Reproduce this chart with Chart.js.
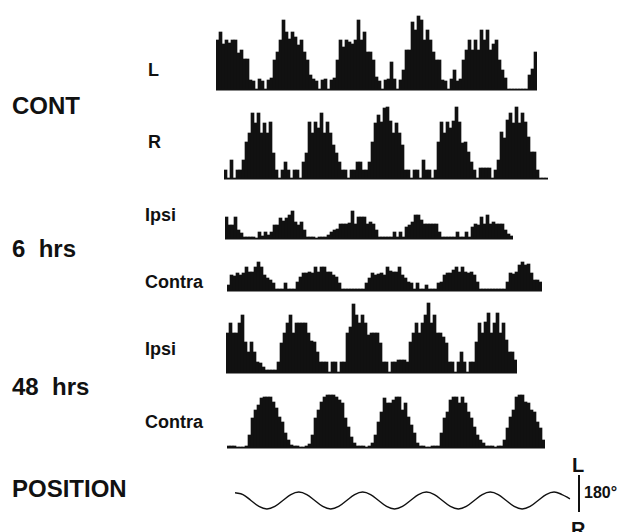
<!DOCTYPE html>
<html><head><meta charset="utf-8">
<script src="https://cdn.jsdelivr.net/npm/chart.js@4"></script>
<style>
html,body{margin:0;padding:0;background:#fff;width:620px;height:532px;overflow:hidden;}
#fig{position:relative;width:620px;height:532px;font-family:"Liberation Sans",Arial,sans-serif;font-weight:bold;color:#111;}
.lab{position:absolute;line-height:1;white-space:pre;}
#fig canvas{position:absolute;}
</style></head><body><div id="fig"></div>
<script>
// ---- data (spike counts per bin) ----
const contL = [49,57,45,49,46,49,49,36,39,30,30, 9,8,0,10,8,0,9,11,
  29,37,49,69,57,50,57,52,44,49,37,29,14, 10,8,0,9,10,0,9,11,
  29,49,42,49,47,45,49,69,49,57,37,37,29,12, 8,0,9,10,27,10,0,9,
  19,39,39,67,59,73,69,49,59,49,37,29,29,9, 8,0,10,19,8,10,
  29,39,49,39,49,39,59,49,59,39,45,49,29,19,11, 0,0,0,0,0,0,0, 14,20,37];
const contR = [8,0,18,0,8,8,18, 36,45,65,55,65,45,55,45,56,25, 8,0,8,16,8,0,8,8,0,
  16,25,56,45,56,50,65,45,56,45,33,25,16, 8,8,0,8,8,16,16,8,8,
  16,36,55,63,56,70,71,57,45,55,45,33, 8,8,0,8,8,0,18,8,8,0,8,
  36,56,45,56,50,57,71,56,35,36,26,16, 8,0,10,10,10,10,0,8,
  18,46,40,58,65,55,71,55,65,56,41,26,26,8, 0,0,0];
const ipsi6 = [21,13,13,21,8,5, 1,1,1,1,0,6,2,6,3,6, 13,13,20,17,20,23,27,16,13,16,8,
  1,1,1,0,1,1,1, 3,6,8,9,14,14,14,15,27,14,21,21,21,14,16,14,8,1, 1,1,1,1,6,1,6,1,
  11,13,16,23,23,18,14,14,14,14,14,6, 1,1,1,1,1,6,1,1,6,1,
  11,14,13,21,14,23,14,16,14,14,14,8,4,2];
const contra6 = [5,15,14,17,15,17,23,18,18,23,28,23,15,12,10,7, 1,1,1,7,1,1,1,8,
  13,17,17,18,17,23,18,23,23,18,18,15,13,7, 1,1,1,1,1,1,1,1,
  7,12,17,15,16,17,15,23,19,18,18,23,15,12,8,7, 1,7,1,1,5,1,1,1,7,
  8,15,17,17,20,23,18,23,18,17,18,15,8, 1,1,1,1,1,1,1,1,1,
  8,17,16,18,25,28,25,26,17,10,10,8];
const ipsi48 = [39,49,39,39,49,57,30,20,30,20,10,9,5, 2,2,2,2,
  10,29,39,49,57,39,49,49,49,49,39,31,30,20,10, 10,10,0,10,10,0,10,10,
  39,45,68,57,49,57,49,37,39,39,39,29,10, 10,0,10,10,12,12,12,10,
  30,39,49,39,49,57,69,49,57,39,39,35,29,10, 10,0,10,20,10,0,10,10,
  30,49,39,50,59,39,49,59,39,49,32,20,20,12];
const contra48 = [1,1,1,0,0,0,1, 12,29,37,42,49,50,50,50,45,39,30,25,14,7,2, 1,1,0,0,1,3,
  12,29,37,45,50,52,52,52,50,47,44,29,20,10,4, 1,1,1,0,1,4,
  12,25,35,49,44,44,47,50,50,37,44,30,22,14,4, 1,1,0,0,1,1,1,
  14,29,35,47,50,50,44,50,44,35,29,20,12,7,4, 1,1,1,0,1,1,
  7,19,30,37,50,52,52,45,44,37,35,25,19,7];
// head position (degrees, L positive), sampled along the record
const position = [38,29,0,-29,-41,-29,0,29, 41,29,0,-29,-41,-29,0,29,
  41,29,0,-29,-41,-29,0,29, 41,29,0,-29,-41,-29,0,29,
  41,29,0,-29,-41,-29,0,29, 41,29,8];
const rowNames = ['L','R','Ipsi','Contra','Ipsi','Contra'];
const groupNames = ['CONT','6  hrs','48  hrs','POSITION'];
const scaleNames = ['L','R','180°'];

// ---- layout ----
const fig = document.getElementById('fig');
const rows = [
  {data:contL,   left:216, base:89,  h:75},
  {data:contR,   left:224, base:178, h:75},
  {data:ipsi6,   left:225, base:238, h:30},
  {data:contra6, left:227, base:290, h:30},
  {data:ipsi48,  left:226, base:372, h:75},
  {data:contra48,left:227, base:447, h:55}
];
const rowLabelPos = [[148,61],[148,133],[145,206],[145,273],[145,340],[145,413]];
const groupLabelPos = [[12,94],[12,237],[12,375],[12,477]];
const scaleLabelPos = [[572,455,20],[571,519,20],[584,485,16]];

function addLabel(text,x,y,size){
  const d=document.createElement('div');d.className='lab';d.textContent=text;
  d.style.left=x+'px';d.style.top=y+'px';d.style.fontSize=size+'px';fig.appendChild(d);
}
rowNames.forEach((t,i)=>addLabel(t,rowLabelPos[i][0],rowLabelPos[i][1],18));
groupNames.forEach((t,i)=>addLabel(t,groupLabelPos[i][0],groupLabelPos[i][1],24));
scaleNames.forEach((t,i)=>addLabel(t,scaleLabelPos[i][0],scaleLabelPos[i][1],scaleLabelPos[i][2]));

const baseline = {id:'baseline', afterDatasetsDraw(chart){
  const {ctx,chartArea:a,scales:{y}}=chart; const py=y.getPixelForValue(0);
  ctx.save();ctx.strokeStyle='#111';ctx.lineWidth=1.5;ctx.beginPath();
  ctx.moveTo(a.left,py+0.75);ctx.lineTo(a.right,py+0.75);ctx.stroke();ctx.restore();
}};

rows.forEach(r=>{
  const cv=document.createElement('canvas');
  cv.width=r.data.length*3; cv.height=r.h+2;
  cv.style.left=r.left+'px'; cv.style.top=(r.base-r.h)+'px';
  fig.appendChild(cv);
  new Chart(cv,{type:'bar',
    data:{labels:r.data.map((_,i)=>i),datasets:[{data:r.data,backgroundColor:'#111',borderWidth:0,barPercentage:1,categoryPercentage:1}]},
    options:{responsive:false,animation:false,devicePixelRatio:1,events:[],layout:{padding:0},
      plugins:{legend:{display:false},tooltip:{enabled:false}},
      scales:{x:{display:false},y:{display:false,min:-2,max:r.h}}},
    plugins:[baseline]});
});

// position trace with 180° scale bar
const scaleBar = {id:'scaleBar', afterDatasetsDraw(chart){
  const {ctx,chartArea:a,scales:{y}}=chart;
  const top=y.getPixelForValue(y.max), bot=y.getPixelForValue(y.max-180);
  ctx.save();ctx.strokeStyle='#111';ctx.lineWidth=2;ctx.beginPath();
  ctx.moveTo(a.right+9,top);ctx.lineTo(a.right+9,bot);ctx.stroke();ctx.restore();
}};
const pc=document.createElement('canvas');
pc.width=350;pc.height=51;pc.style.left='235px';pc.style.top='475px';fig.appendChild(pc);
new Chart(pc,{type:'line',
  data:{labels:position.map((_,i)=>i),datasets:[{data:position,borderColor:'#111',borderWidth:1.4,pointRadius:0,tension:0.4,fill:false}]},
  options:{responsive:false,animation:false,devicePixelRatio:1,events:[],layout:{padding:{left:0,right:15,top:0,bottom:0}},
    plugins:{legend:{display:false},tooltip:{enabled:false}},
    scales:{x:{display:false,offset:false},y:{display:false,min:-124,max:124}}},
  plugins:[scaleBar]});
</script>
</body></html>
